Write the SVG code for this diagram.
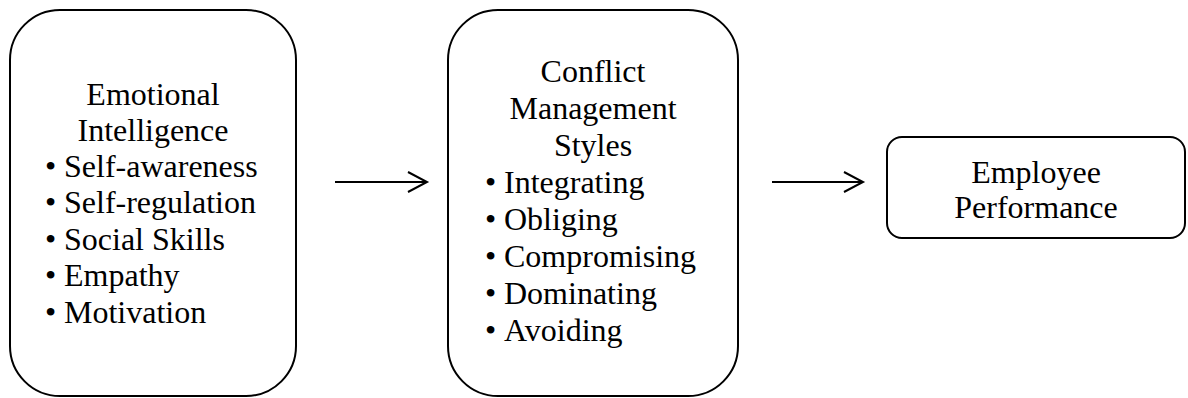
<svg xmlns="http://www.w3.org/2000/svg" width="1188" height="398" viewBox="0 0 1188 398">
<style>
.box{fill:#fff;stroke:#000;stroke-width:2}
.t{font-family:'Liberation Serif','Times New Roman',serif;font-size:32px;fill:#000}
.c{text-anchor:middle}
.conn{stroke:#000;stroke-width:2;fill:none}
</style>
<rect width="1188" height="398" fill="#fff"/>
<g id="connectors">
<line class="conn" x1="335" y1="182" x2="426" y2="182"/>
<path class="conn" d="M408,172 L427,182 L408,192"/>
<line class="conn" x1="772" y1="182" x2="862" y2="182"/>
<path class="conn" d="M844,172 L863,182 L844,192"/>
</g>
<g id="emotional-intelligence">
<rect class="box" x="10" y="10" width="286" height="386" rx="50" ry="50"/>
<text class="t c" x="153" y="105">Emotional</text>
<text class="t c" x="153" y="141">Intelligence</text>
<text class="t" x="45" y="177">•</text><text class="t" x="64" y="177">Self-awareness</text>
<text class="t" x="45" y="213">•</text><text class="t" x="64" y="213">Self-regulation</text>
<text class="t" x="45" y="250">•</text><text class="t" x="64" y="250">Social Skills</text>
<text class="t" x="45" y="286">•</text><text class="t" x="64" y="286">Empathy</text>
<text class="t" x="45" y="323">•</text><text class="t" x="64" y="323">Motivation</text>
</g>
<g id="conflict-management">
<rect class="box" x="448" y="10" width="290" height="386" rx="50" ry="50"/>
<text class="t c" x="593" y="82">Conflict</text>
<text class="t c" x="593" y="119">Management</text>
<text class="t c" x="593" y="156">Styles</text>
<text class="t" x="485" y="193">•</text><text class="t" x="504" y="193">Integrating</text>
<text class="t" x="485" y="230">•</text><text class="t" x="504" y="230">Obliging</text>
<text class="t" x="485" y="267">•</text><text class="t" x="504" y="267">Compromising</text>
<text class="t" x="485" y="304">•</text><text class="t" x="504" y="304">Dominating</text>
<text class="t" x="485" y="341">•</text><text class="t" x="504" y="341">Avoiding</text>
</g>
<g id="employee-performance">
<rect class="box" x="887" y="137" width="298" height="101" rx="15" ry="15"/>
<text class="t c" x="1036" y="183">Employee</text>
<text class="t c" x="1036" y="218">Performance</text>
</g>
</svg>
